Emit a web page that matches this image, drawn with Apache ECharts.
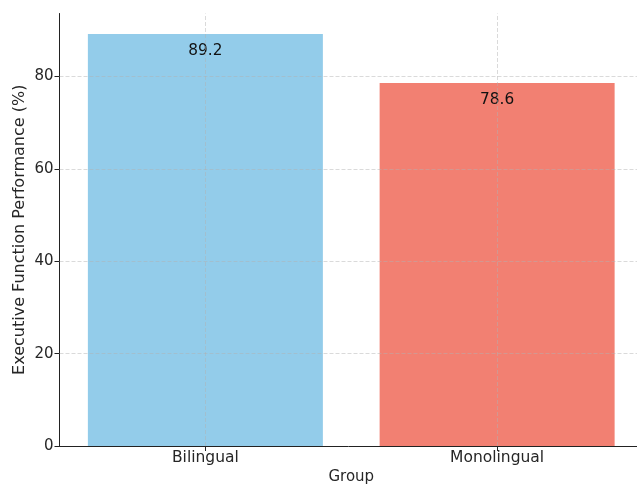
<!DOCTYPE html>
<html>
<head>
<meta charset="utf-8">
<script src="https://cdn.jsdelivr.net/npm/echarts@6/dist/echarts.min.js"></script>
<style>
html,body{margin:0;padding:0;background:#fff;}
#main{width:637px;height:485px;}
</style>
</head>
<body>
<div id="main"></div>
<script>
const categories = ['Bilingual', 'Monolingual'];
const values = [89.2, 78.6];
const barColors = ['#93CCEA', '#F28072'];
const yTicks = [0, 20, 40, 60, 80];
const yMax = 93.66;

const FONT = 'DejaVu Sans';
const TXT = '#262626';
const gridLine = { color: '#b0b0b0', opacity: 0.6, type: [4, 2], width: 0.8 };

const chart = echarts.init(document.getElementById('main'), null, { renderer: 'canvas' });

const markData = [];
categories.forEach(c => markData.push({ xAxis: c }));
yTicks.filter(v => v > 0).forEach(v => markData.push({ yAxis: v }));

chart.setOption({
  animation: false,
  backgroundColor: '#fff',
  grid: { left: 59.5, right: -6, top: 13.5, bottom: 39, containLabel: false, outerBoundsMode: 'none' },
  xAxis: {
    type: 'category',
    data: categories,
    name: 'Group',
    nameLocation: 'middle',
    nameGap: 24,
    nameMoveOverlap: false,
    nameTextStyle: { fontFamily: FONT, fontSize: 15, color: TXT },
    axisLine: { show: true, lineStyle: { color: '#222', width: 1 } },
    axisTick: { show: true, alignWithLabel: true, length: 5, lineStyle: { color: '#222', width: 1 } },
    axisLabel: { fontFamily: FONT, fontSize: 15.5, color: TXT, margin: 4 },
    splitLine: { show: false }
  },
  yAxis: {
    type: 'value',
    min: 0,
    max: yMax,
    interval: 20,
    name: 'Executive Function Performance (%)',
    nameLocation: 'middle',
    nameGap: 32,
    nameMoveOverlap: false,
    nameTextStyle: { fontFamily: FONT, fontSize: 16, color: TXT },
    axisLine: { show: true, lineStyle: { color: '#222', width: 1 } },
    axisTick: { show: true, length: 5, customValues: yTicks, lineStyle: { color: '#222', width: 1 } },
    axisLabel: { fontFamily: FONT, fontSize: 15, color: TXT, margin: 6, customValues: yTicks },
    splitLine: { show: false }
  },
  series: [{
    type: 'bar',
    barWidth: 235,
    data: values.map((v, i) => ({ value: v, itemStyle: { color: barColors[i] } })),
    label: {
      show: true,
      position: 'insideTop',
      distance: 9,
      fontFamily: FONT,
      fontSize: 15.3,
      color: '#111',
      formatter: p => p.value.toFixed(1)
    },
    markLine: {
      silent: true,
      symbol: 'none',
      label: { show: false },
      lineStyle: gridLine,
      emphasis: { disabled: true },
      data: markData
    }
  }]
});
</script>
</body>
</html>
